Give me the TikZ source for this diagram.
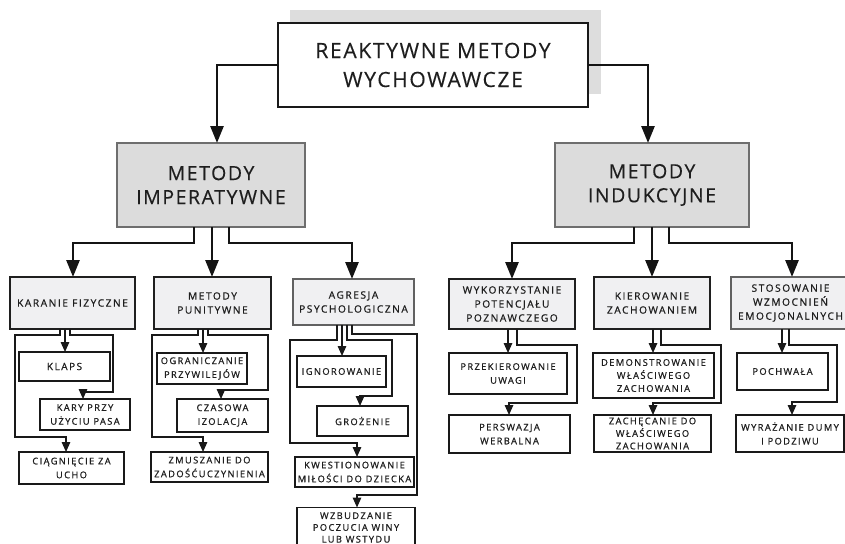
\documentclass[tikz,border=0pt]{standalone}
\usepackage{fontspec}
\setmainfont{Open Sans}
\newfontfamily\bigfont{Open Sans}[LetterSpace=8, FakeBold=0.3]
\newfontfamily\smallfont{Open Sans}[LetterSpace=15, FakeBold=0.8]
\usetikzlibrary{arrows.meta}
\definecolor{shadowgray}{HTML}{DDDDDD}
\definecolor{lvlonefill}{HTML}{DCDCDC}
\definecolor{lvloneline}{HTML}{6E6E6E}
\definecolor{lvltwofill}{HTML}{F0F0F2}
\definecolor{txt}{HTML}{1E1E1E}
\tikzset{
  box/.style={rectangle, inner sep=0pt, outer sep=0pt, align=center, text=txt},
  topbox/.style={box, draw=black!90, line width=2.6pt, fill=white,
    font=\bigfont\fontsize{21}{29}\selectfont},
  lvlone/.style={box, draw=lvloneline, line width=2.3pt, fill=lvlonefill,
    font=\bigfont\fontsize{19.5}{24}\selectfont},
  lvltwo/.style={box, draw=black!88, line width=2.6pt, fill=lvltwofill,
    font=\smallfont\fontsize{10.2}{14}\selectfont},
  lvltwog/.style={lvltwo, draw=black!62},
  leaf/.style={box, draw=black!90, line width=1.4pt, fill=white,
    font=\smallfont\fontsize{9.3}{13.8}\selectfont},
  mainarrow/.style={draw=black!92, line width=2.7pt, -{Triangle[length=17pt,width=13pt]}},
  subarrow/.style={draw=black!90, line width=1.5pt, -{Triangle[length=10pt,width=8.5pt]}},
}
\begin{document}
\begin{tikzpicture}[x=1pt,y=-1pt]
\useasboundingbox (0,0) rectangle (845,543);
\clip (0,0) rectangle (845,543);
% shadow behind the title box
\fill[shadowgray] (290,10) rectangle (601,94);
% title
\node[topbox, minimum width=310pt, minimum height=84pt] (top) at (433,65) {REAKTYWNE METODY\\WYCHOWAWCZE};
% level one
\node[lvlone, minimum width=188pt, minimum height=84pt] (imp) at (211,185) {METODY\\IMPERATYWNE};
\node[lvlone, minimum width=194pt, minimum height=84pt] (ind) at (652,185) {METODY\\INDUKCYJNE};
% level two
\node[lvltwo, minimum width=125pt, minimum height=52pt] (kar) at (72.5,303) {KARANIE FIZYCZNE};
\node[lvltwo, minimum width=117pt, minimum height=52pt] (pun) at (212.5,303) {METODY\\PUNITYWNE};
\node[lvltwog, minimum width=121pt, minimum height=46pt] (agr) at (353.5,302) {AGRESJA\\PSYCHOLOGICZNA};
\node[lvltwo, minimum width=126pt, minimum height=50pt] (wyk) at (512,304) {WYKORZYSTANIE\\POTENCJAŁU\\POZNAWCZEGO};
\node[lvltwo, minimum width=116pt, minimum height=52pt] (kie) at (652,303) {KIEROWANIE\\ZACHOWANIEM};
\node[lvltwog, minimum width=119pt, minimum height=52pt] (sto) at (790.5,303) {STOSOWANIE\\WZMOCNIEŃ\\EMOCJONALNYCH};
% leaves
\node[leaf, minimum width=91pt, minimum height=29pt, font=\smallfont\fontsize{10}{13}\selectfont] (klaps) at (64.5,366.5) {KLAPS};
\node[leaf, minimum width=90pt, minimum height=31pt] (kary) at (85,414.5) {KARY PRZY\\UŻYCIU PASA};
\node[leaf, minimum width=105pt, minimum height=32pt] (cia) at (71.5,468) {CIĄGNIĘCIE ZA\\UCHO};
\node[leaf, minimum width=90pt, minimum height=31pt] (ogr) at (202,368.5) {OGRANICZANIE\\PRZYWILEJÓW};
\node[leaf, minimum width=91pt, minimum height=33pt] (cza) at (222.5,415.5) {CZASOWA\\IZOLACJA};
\node[leaf, minimum width=117pt, minimum height=30pt] (zmu) at (209.5,467) {ZMUSZANIE DO\\ZADOŚĆUCZYNIENIA};
\node[leaf, minimum width=89pt, minimum height=31pt] (ign) at (341.5,371.5) {IGNOROWANIE};
\node[leaf, minimum width=91pt, minimum height=30pt] (gro) at (362.5,421) {GROŻENIE};
\node[leaf, minimum width=119pt, minimum height=30pt] (kwe) at (354.5,472) {KWESTIONOWANIE\\MIŁOŚCI DO DZIECKA};
\node[leaf, minimum width=118pt, minimum height=40pt, font=\smallfont\fontsize{9.3}{11.8}\selectfont] (wzb) at (356,527.5) {WZBUDZANIE\\POCZUCIA WINY\\LUB WSTYDU};
\node[leaf, minimum width=118pt, minimum height=41pt] (prz) at (508,373.5) {PRZEKIEROWANIE\\UWAGI};
\node[leaf, minimum width=121pt, minimum height=38pt] (per) at (509.5,434) {PERSWAZJA\\WERBALNA};
\node[leaf, minimum width=121pt, minimum height=45pt, font=\smallfont\fontsize{9.3}{13}\selectfont] (dem) at (653.5,375.5) {DEMONSTROWANIE\\WŁAŚCIWEGO\\ZACHOWANIA};
\node[leaf, minimum width=117pt, minimum height=37pt, font=\smallfont\fontsize{9.3}{12.5}\selectfont] (zac) at (652.5,433.5) {ZACHĘCANIE DO\\WŁAŚCIWEGO\\ZACHOWANIA};
\node[leaf, minimum width=91pt, minimum height=37pt] (poc) at (782.5,371.5) {POCHWAŁA};
\node[leaf, minimum width=108pt, minimum height=37pt] (wyr) at (790,433.5) {WYRAŻANIE DUMY\\I PODZIWU};
% main connectors
\draw[mainarrow] (top.west) -| (217,0 |- imp.north);
\draw[mainarrow] (top.east) -| (648,0 |- ind.north);
\draw[mainarrow] (194,0 |- imp.south) -- (194,243) -| (73,0 |- kar.north);
\draw[mainarrow] (212,0 |- imp.south) -- (212,0 |- pun.north);
\draw[mainarrow] (229,0 |- imp.south) -- (229,243) -| (352,0 |- agr.north);
\draw[mainarrow] (634,0 |- ind.south) -- (634,243) -| (512,0 |- wyk.north);
\draw[mainarrow] (652,0 |- ind.south) -- (652,0 |- kie.north);
\draw[mainarrow] (669,0 |- ind.south) -- (669,243) -| (792,0 |- sto.north);
% karanie fizyczne
\draw[subarrow] (60,0 |- kar.south) -- (60,335) -- (15,335) -- (15,437) -| (66,0 |- cia.north);
\draw[subarrow] (65,0 |- kar.south) -- (65,0 |- klaps.north);
\draw[subarrow] (70,0 |- kar.south) -- (70,335) -- (113,335) -- (113,392) -| (83,0 |- kary.north);
% metody punitywne
\draw[subarrow] (198,0 |- pun.south) -- (198,335) -- (152,335) -- (152,437) -| (203,0 |- zmu.north);
\draw[subarrow] (203,0 |- pun.south) -- (203,0 |- ogr.north);
\draw[subarrow] (208,0 |- pun.south) -- (208,335) -- (268,335) -- (268,390) -| (221,0 |- cza.north);
% agresja psychologiczna
\draw[subarrow] (337,0 |- agr.south) -- (337,340) -- (290,340) -- (290,443) -| (357,0 |- kwe.north);
\draw[subarrow] (342,0 |- agr.south) -- (342,0 |- ign.north);
\draw[subarrow] (347,0 |- agr.south) -- (347,340) -- (392,340) -- (392,396) -| (360,0 |- gro.north);
\draw[subarrow] (352,0 |- agr.south) -- (352,334) -- (417,334) -- (417,495) -| (357,0 |- wzb.north);
% wykorzystanie
\draw[subarrow] (508,0 |- wyk.south) -- (508,0 |- prz.north);
\draw[subarrow] (517,0 |- wyk.south) -- (517,345) -- (577,345) -- (577,403) -| (509,0 |- per.north);
% kierowanie
\draw[subarrow] (653,0 |- kie.south) -- (653,0 |- dem.north);
\draw[subarrow] (661,0 |- kie.south) -- (661,345) -- (721,345) -- (721,403) -| (653,0 |- zac.north);
% stosowanie
\draw[subarrow] (782,0 |- sto.south) -- (782,0 |- poc.north);
\draw[subarrow] (789,0 |- sto.south) -- (789,345) -- (837,345) -- (837,402) -| (792,0 |- wyr.north);
\end{tikzpicture}
\end{document}
